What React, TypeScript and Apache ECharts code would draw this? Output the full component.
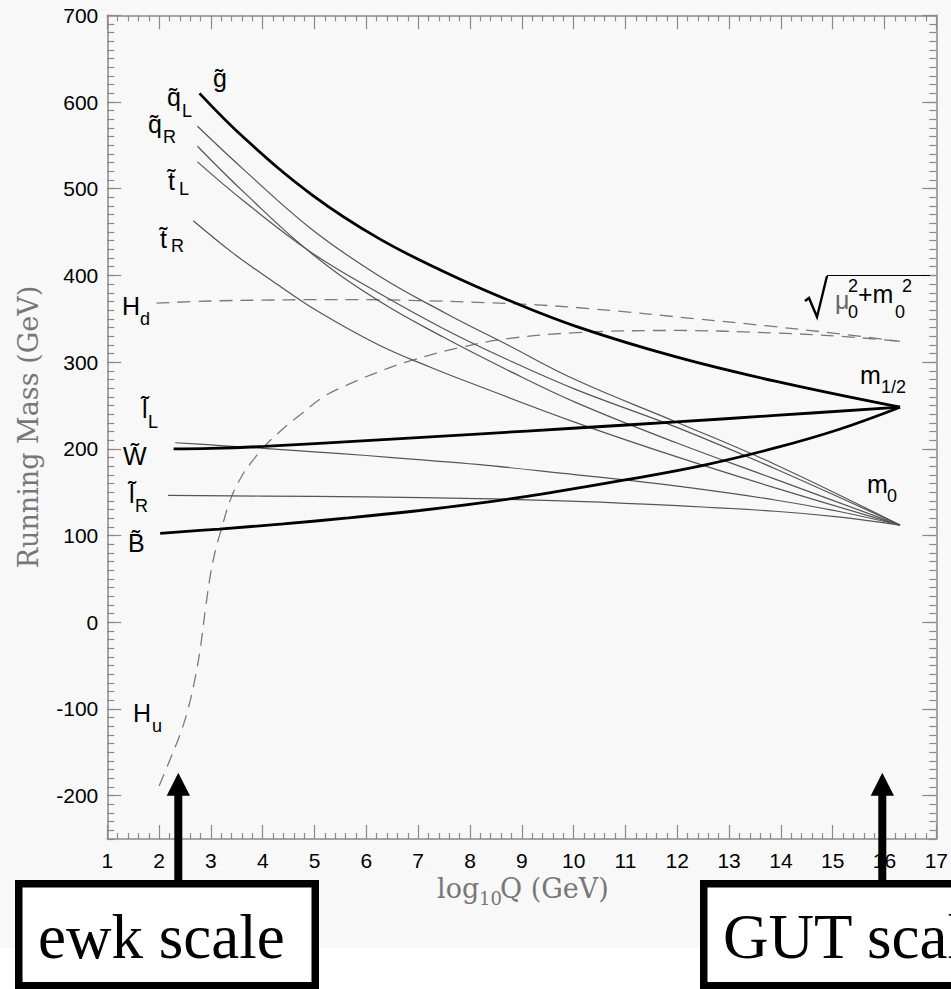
import React, { useEffect, useRef } from "react";
import * as echarts from "echarts";

// ---------- data (log10 Q, running mass in GeV) ----------
const yMajorTicks = [-200, -100, 0, 100, 200, 300, 400, 500, 600, 700];

const gluino: [number, number][] = [
  [2.78, 610], [3.67, 557], [4.95, 493], [6.23, 443], [7.51, 404],
  [8.72, 372], [10.06, 341], [11.98, 306], [13.89, 278], [16.3, 248],
];
const wino: [number, number][] = [
  [2.28, 200], [3.0, 200.5], [4.02, 202.8], [6.0, 209.5], [8.14, 217],
  [10.06, 224], [11.98, 231], [13.89, 238.5], [16.3, 248],
];
const bino: [number, number][] = [
  [2.02, 102.5], [3.16, 107.5], [4.4, 113.5], [5.65, 120.3], [6.9, 128],
  [8.14, 137], [9.5, 149], [11.02, 164.4], [12.5, 181], [13.89, 201],
  [15.1, 222], [16.3, 248],
];
const squarkL: [number, number][] = [
  [2.74, 572], [3.67, 520], [4.95, 453], [6.23, 400], [7.51, 357],
  [8.72, 320], [10.06, 279], [11.98, 231], [13.89, 182], [16.3, 112],
];
const squarkR: [number, number][] = [
  [2.74, 549], [3.67, 494], [4.95, 425], [6.23, 371], [7.51, 328],
  [8.72, 291], [10.06, 253], [11.98, 207], [13.89, 165], [16.3, 112],
];
const stopL: [number, number][] = [
  [2.74, 531], [3.67, 484], [4.95, 426], [6.23, 380], [7.51, 338],
  [8.72, 303], [10.06, 268], [11.98, 225], [13.89, 177], [16.3, 112],
];
const stopR: [number, number][] = [
  [2.66, 463], [3.42, 426], [4.2, 393], [5.08, 358], [6.23, 320],
  [7.2, 295], [8.14, 273], [10.06, 230], [11.98, 191], [13.89, 155],
  [16.3, 112],
];
const sleptonL: [number, number][] = [
  [2.31, 207], [3.0, 204.5], [3.5, 202.5], [4.02, 200.5], [5.0, 196.5],
  [6.0, 192.3], [7.0, 187.5], [8.14, 182], [10.06, 170], [11.02, 164],
  [12.0, 157], [13.89, 141], [15.1, 128], [16.3, 112],
];
const sleptonR: [number, number][] = [
  [2.17, 146.3], [4.0, 145.5], [6.0, 144.5], [8.14, 142.5], [10.06, 139.5],
  [12.0, 134.5], [13.89, 128], [15.1, 121.5], [16.3, 112],
];
const higgsD: [number, number][] = [
  [1.95, 368], [3.0, 370.5], [4.0, 371.5], [5.0, 372], [6.0, 372],
  [7.0, 371], [8.14, 369], [9.3, 366], [10.44, 361], [12.36, 350],
  [13.7, 342], [15.0, 333.5], [16.3, 324],
];
const higgsU: [number, number][] = [
  [2.0, -189], [2.2, -160], [2.4, -130], [2.55, -102], [2.7, -63],
  [2.8, -28], [2.9, 18], [3.0, 58], [3.1, 86], [3.2, 107], [3.38, 142],
  [3.6, 169], [3.8, 186], [4.02, 202], [4.37, 222], [4.76, 241],
  [5.2, 261], [5.72, 276], [6.2, 288], [6.87, 302], [7.82, 317],
  [8.72, 327], [10.06, 334], [11.98, 336.5], [13.89, 333.5], [15.1, 330],
  [16.3, 324],
];

const SANS = "'Liberation Sans', Arial, Helvetica, sans-serif";
const SERIF = "'DejaVu Serif', serif";
const TIMES = "'Liberation Serif', 'Times New Roman', serif";
const AXIS_GRAY = "#8a8a8a";

function txt(text: string, x: number, baseline: number, size: number, opts: any = {}) {
  const fam = opts.family || SANS;
  const k = fam === TIMES ? 0.3375 : 0.3465;
  return {
    type: "text",
    x,
    y: opts.centerY ?? baseline - k * size,
    z: opts.z ?? 50,
    silent: true,
    rotation: opts.rotation || 0,
    style: {
      text,
      fontSize: size,
      fontFamily: fam,
      fill: opts.color || "#000",
      align: opts.align || "left",
      verticalAlign: "middle",
    },
  };
}

export default function App() {
  const ref = useRef<HTMLDivElement>(null);
  useEffect(() => {
    document.body.style.margin = "0";
    const chart = echarts.init(ref.current!, null, { renderer: "svg" });

    const thick = { color: "#000", width: 2.8, type: "solid" };
    const thin = { color: "#555", width: 1.2, type: "solid" };
    const dashed = { color: "#7a7a7a", width: 1.3, type: [13, 8] };
    const mk = (name: string, data: [number, number][], ls: any, z: number) => ({
      name,
      type: "line",
      data,
      showSymbol: false,
      symbol: "none",
      smooth: 0.4,
      silent: true,
      z,
      lineStyle: ls,
    });

    const main = 25;
    const sub = 18;
    const labels: any[] = [
      txt("g\u0303", 213, 87, main),
      txt("q\u0303", 167, 106, main), txt("L", 182, 117, sub),
      txt("q\u0303", 148, 133, main), txt("R", 163, 143, sub),
      txt("t\u0303", 168, 190, main), txt("L", 179, 195, sub),
      txt("t\u0303", 160, 248, main), txt("R", 171, 252, sub),
      txt("H", 122, 315, main), txt("d", 140, 325, sub),
      txt("l\u0303", 142, 418, main), txt("L", 148, 428, sub),
      txt("W\u0303", 123, 465, main),
      txt("l\u0303", 129, 503, main), txt("R", 135, 512, sub),
      txt("B\u0303", 128, 552, main),
      txt("H", 133, 722, main), txt("u", 152, 732, sub),
      txt("m", 860, 384, main), txt("1/2", 881, 393, sub),
      txt("m", 867, 493, main), txt("0", 887, 502, sub),
      txt("\u03bc", 835, 309, main, { color: "#666" }),
      txt("0", 848, 318, sub), txt("2", 848, 292, sub),
      txt("+m", 858, 303, main),
      txt("0", 895, 318, sub), txt("2", 902, 292, sub),
      // axis names
      txt("Running Mass (GeV)", 28, 0, 27, { family: SERIF, color: "#777", rotation: Math.PI / 2, align: "center", centerY: 427 }),
      txt("log", 437, 898, 27, { family: SERIF, color: "#777" }),
      txt("10", 479, 905, 18, { family: SERIF, color: "#777" }),
      txt("Q (GeV)", 500, 898, 27, { family: SERIF, color: "#777" }),
      // boxes text
      txt("ewk scale", 38, 958, 63, { family: TIMES, z: 120 }),
      txt("GUT scale", 723, 958, 63, { family: TIMES, z: 120 }),
    ];

    const graphics: any[] = [
      { type: "rect", z: -10, silent: true, shape: { x: 0, y: 0, width: 951, height: 948 }, style: { fill: "#f8f8f8" } },
      // sqrt sign
      { type: "polyline", z: 50, silent: true, shape: { points: [[805, 301], [809, 298], [817, 317], [827, 276]] }, style: { stroke: "#000", lineWidth: 2.4, fill: null } },
      { type: "line", z: 50, silent: true, shape: { x1: 827, y1: 275.5, x2: 930, y2: 275.5 }, style: { stroke: "#000", lineWidth: 1.2 } },
      // boxes
      { type: "rect", z: 110, silent: true, shape: { x: 18.75, y: 883.75, width: 296.5, height: 102 }, style: { fill: "#fff", stroke: "#000", lineWidth: 7.5 } },
      { type: "rect", z: 110, silent: true, shape: { x: 703.75, y: 883.75, width: 400, height: 102 }, style: { fill: "#fff", stroke: "#000", lineWidth: 7.5 } },
      // arrows
      { type: "rect", z: 110, silent: true, shape: { x: 174.3, y: 794, width: 8, height: 88 }, style: { fill: "#000" } },
      { type: "polygon", z: 110, silent: true, shape: { points: [[166.7, 795.7], [190, 795.7], [178.3, 772.7]] }, style: { fill: "#000" } },
      { type: "rect", z: 110, silent: true, shape: { x: 878.3, y: 794, width: 8, height: 88 }, style: { fill: "#000" } },
      { type: "polygon", z: 110, silent: true, shape: { points: [[870.7, 795.7], [894, 795.7], [882.3, 772.7]] }, style: { fill: "#000" } },
      ...labels,
    ];

    const axisLine = { show: true, onZero: false, lineStyle: { color: AXIS_GRAY, width: 1.5 } };
    const xBase = {
      type: "value", min: 1, max: 17, interval: 1,
      axisLine,
      axisTick: { show: true, inside: true, length: 14, lineStyle: { color: AXIS_GRAY, width: 1.2 } },
      minorTick: { show: true, splitNumber: 5, length: 6, lineStyle: { color: AXIS_GRAY, width: 1.2 } },
      splitLine: { show: false },
      minorSplitLine: { show: false },
    };
    const yMajor = (pos: string, labelsOn: boolean) => ({
      type: "value", min: -250, max: 700, position: pos,
      axisLine,
      axisTick: { show: true, inside: true, length: 14, customValues: yMajorTicks, lineStyle: { color: AXIS_GRAY, width: 1.2 } },
      axisLabel: { show: labelsOn, customValues: yMajorTicks, margin: 9, fontSize: 21, fontFamily: SANS, color: "#000" },
      splitLine: { show: false },
    });
    const yMinor = (pos: string) => ({
      type: "value", min: -250, max: 700, interval: 10, position: pos,
      axisLine: { show: false, onZero: false },
      axisTick: { show: true, inside: true, length: 7, lineStyle: { color: AXIS_GRAY, width: 1.2 } },
      axisLabel: { show: false },
      splitLine: { show: false },
    });

    chart.setOption({
      animation: false,
      backgroundColor: "#ffffff",
      grid: { left: 107.3, right: 9.3, top: 15.3, bottom: 150, containLabel: false },
      xAxis: [
        { ...xBase, position: "bottom", axisLabel: { show: true, margin: 11, fontSize: 21, fontFamily: SANS, color: "#000" } },
        { ...xBase, position: "top", axisLabel: { show: false } },
      ],
      yAxis: [yMajor("left", true), yMinor("left"), yMajor("right", false), yMinor("right")],
      graphic: { elements: graphics },
      series: [
        mk("Hd", higgsD, dashed, 2),
        mk("Hu", higgsU, dashed, 2),
        mk("qL", squarkL, thin, 3),
        mk("qR", squarkR, thin, 3),
        mk("tL", stopL, thin, 3),
        mk("tR", stopR, thin, 3),
        mk("lL", sleptonL, thin, 3),
        mk("lR", sleptonR, thin, 3),
        mk("gluino", gluino, thick, 4),
        mk("wino", wino, thick, 4),
        mk("bino", bino, thick, 4),
      ],
    });
    return () => chart.dispose();
  }, []);
  return <div ref={ref} style={{ width: 951, height: 989 }} />;
}
